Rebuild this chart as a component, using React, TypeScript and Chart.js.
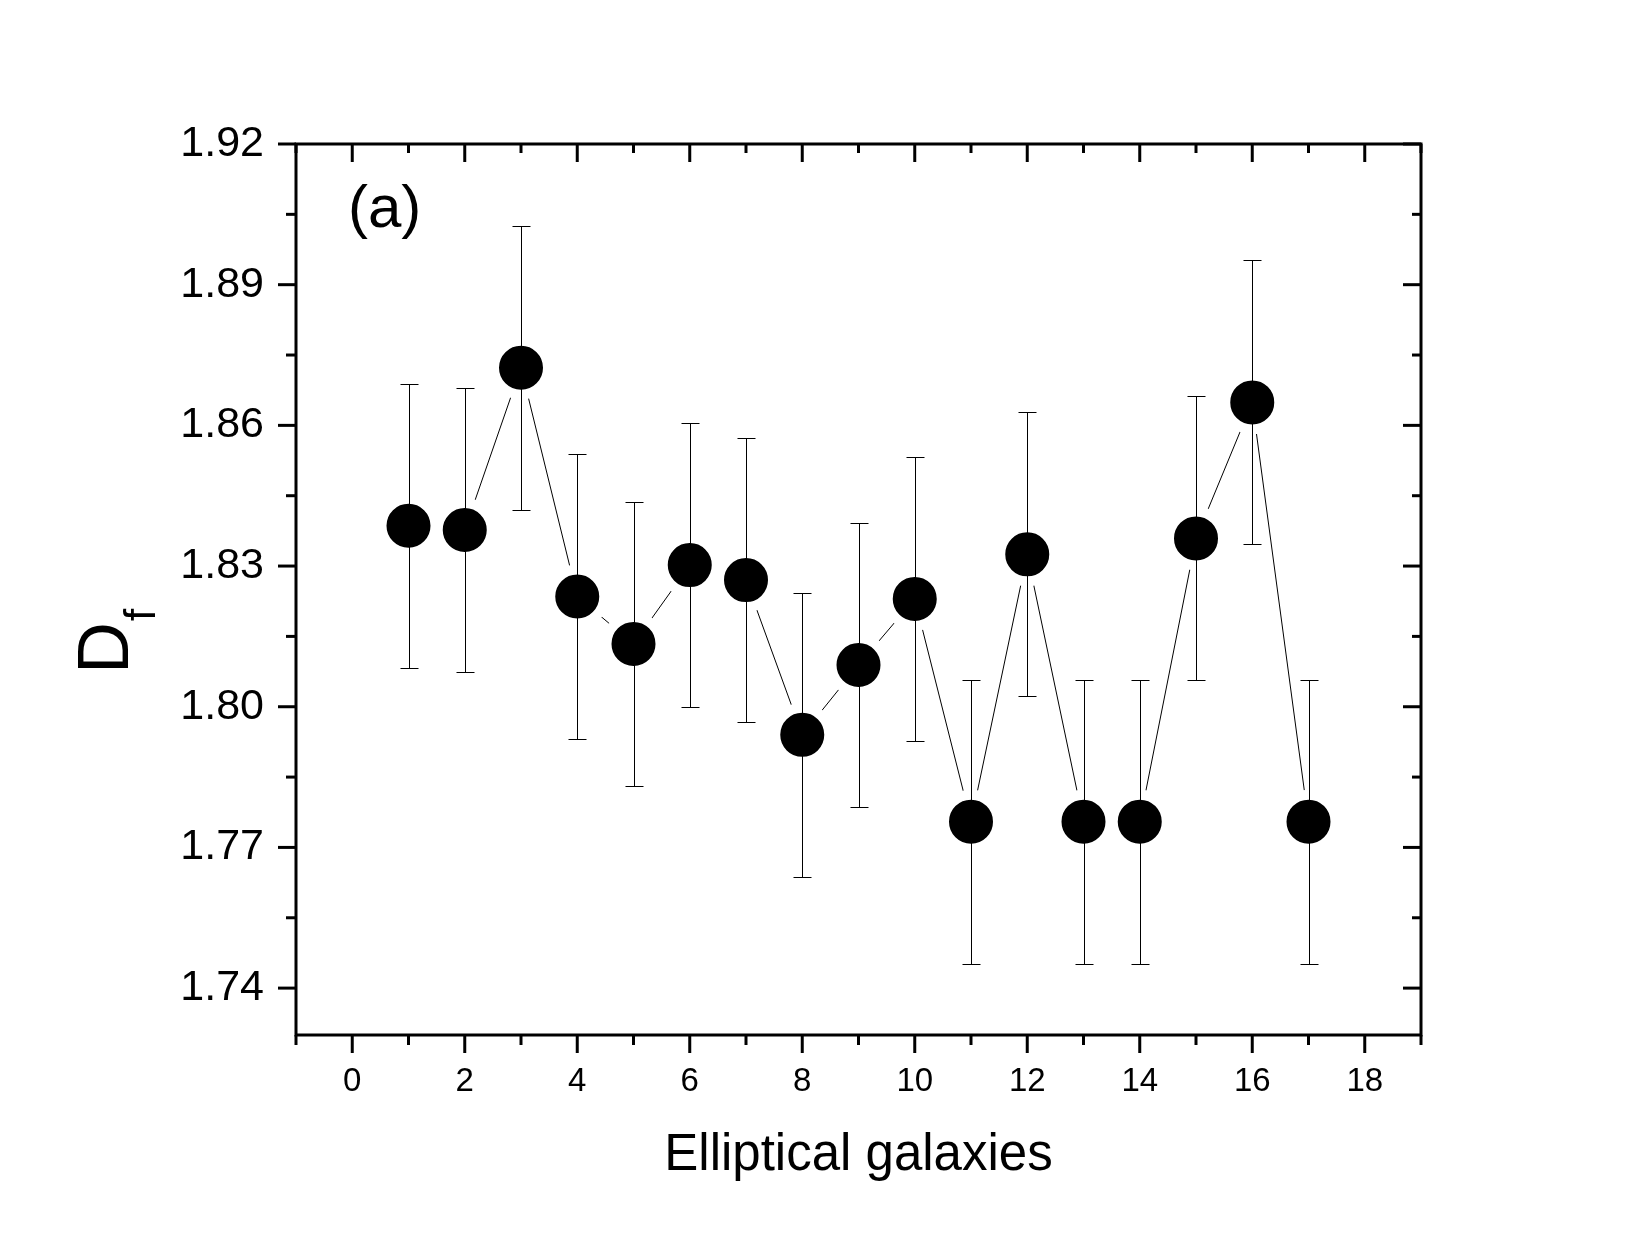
import React, { useEffect, useRef } from 'react';
import Chart from 'chart.js/auto';

// galaxy number along the x axis
const galaxyIndex = [1, 2, 3, 4, 5, 6, 7, 8, 9, 10, 11, 12, 13, 14, 15, 16, 17];
// fractal dimension D_f
const dfValues = [
  1.8386, 1.8377, 1.8723, 1.8235, 1.8134, 1.8302, 1.827, 1.794, 1.8089,
  1.823, 1.7755, 1.8325, 1.7755, 1.7755, 1.8359, 1.8649, 1.7755,
];
// symmetric error bars
const dfErrors = [
  0.0303, 0.0303, 0.0303, 0.0303, 0.0303, 0.0303, 0.0303, 0.0303, 0.0303,
  0.0303, 0.0303, 0.0303, 0.0303, 0.0303, 0.0303, 0.0303, 0.0303,
];

const xTickLabels = ['0', '2', '4', '6', '8', '10', '12', '14', '16', '18'];
const yTickLabels = ['1.74', '1.77', '1.80', '1.83', '1.86', '1.89', '1.92'];

const FONT = '"Liberation Sans", Arial, sans-serif';

const isYTick = (v: number) => Math.round(v * 1000) % 15 === 0;

const originStyle = {
  id: 'originStyle',
  afterDatasetsDraw(chart: any) {
    const { ctx, scales } = chart;
    const xs = scales.x;
    const ys = scales.y;
    ctx.save();
    ctx.strokeStyle = '#000';
    ctx.lineWidth = 1;
    galaxyIndex.forEach((g, i) => {
      const px = Math.round(xs.getPixelForValue(g)) + 0.5;
      const top = Math.round(ys.getPixelForValue(dfValues[i] + dfErrors[i])) + 0.5;
      const bot = Math.round(ys.getPixelForValue(dfValues[i] - dfErrors[i])) + 0.5;
      ctx.beginPath();
      ctx.moveTo(px, top);
      ctx.lineTo(px, bot);
      ctx.moveTo(px - 9, top);
      ctx.lineTo(px + 9, top);
      ctx.moveTo(px - 9, bot);
      ctx.lineTo(px + 9, bot);
      ctx.stroke();
    });
    ctx.restore();
  },
  afterDraw(chart: any) {
    const { ctx, chartArea: a, scales } = chart;
    const xs = scales.x;
    const ys = scales.y;
    ctx.save();
    ctx.strokeStyle = '#000';
    ctx.lineWidth = 3;
    ctx.lineCap = 'butt';
    const seg = (x1: number, y1: number, x2: number, y2: number) => {
      ctx.beginPath();
      ctx.moveTo(x1, y1);
      ctx.lineTo(x2, y2);
      ctx.stroke();
    };

    // bottom/left ticks point out, top/right ticks point in
    xs.ticks.forEach((t: any) => {
      const px = xs.getPixelForValue(t.value);
      const major = xTickLabels.includes(String(t.value));
      seg(px, a.bottom, px, a.bottom + (major ? 18 : 10));
      seg(px, a.top, px, a.top + (major ? 18 : 9));
    });
    ys.ticks.forEach((t: any) => {
      if (!isYTick(t.value)) return;
      const py = ys.getPixelForValue(t.value);
      const major = yTickLabels.includes(t.value.toFixed(2));
      seg(a.left, py, a.left - (major ? 18 : 10), py);
      seg(a.right, py, a.right - (major ? 18 : 9), py);
    });

    ctx.strokeRect(a.left, a.top, a.right - a.left, a.bottom - a.top);

    // axis titles and panel label
    ctx.fillStyle = '#000';
    ctx.textBaseline = 'alphabetic';
    ctx.textAlign = 'center';
    ctx.font = `51px ${FONT}`;
    ctx.fillText('Elliptical galaxies', (a.left + a.right) / 2, 1170);

    ctx.textAlign = 'left';
    ctx.font = `60px ${FONT}`;
    ctx.fillText('(a)', 348, 227);

    ctx.translate(128, 674);
    ctx.rotate(-Math.PI / 2);
    ctx.font = `72px ${FONT}`;
    ctx.fillText('D', 0, 0);
    const dw = ctx.measureText('D').width;
    ctx.font = `44px ${FONT}`;
    ctx.fillText('f', dw + 1, 27);
    ctx.restore();
  },
};

const App: React.FC = () => {
  const canvasRef = useRef<HTMLCanvasElement>(null);
  const chartRef = useRef<Chart | null>(null);

  useEffect(() => {
    if (!canvasRef.current) return;
    if (chartRef.current) chartRef.current.destroy();

    chartRef.current = new Chart(canvasRef.current, {
      type: 'scatter',
      data: {
        datasets: [
          {
            data: galaxyIndex.map((g, i) => ({ x: g, y: dfValues[i] })),
            showLine: true,
            borderColor: '#000',
            borderWidth: 1,
            tension: 0,
            pointRadius: 27,
            pointBorderWidth: 10,
            pointBorderColor: '#fff',
            pointBackgroundColor: '#000',
            pointHoverRadius: 27,
          },
        ],
      },
      options: {
        animation: false,
        responsive: true,
        maintainAspectRatio: false,
        devicePixelRatio: 1,
        events: [],
        layout: { padding: { top: 144, right: 229, left: 0, bottom: 0 } },
        plugins: {
          legend: { display: false },
          tooltip: { enabled: false },
        },
        scales: {
          x: {
            type: 'linear',
            min: -1,
            max: 19,
            grid: { display: false, drawTicks: false },
            border: { display: false },
            afterFit: (scale: any) => {
              scale.height = 207;
            },
            ticks: {
              stepSize: 1,
              autoSkip: false,
              maxRotation: 0,
              padding: 27,
              color: '#000',
              font: { family: FONT, size: 33 },
              callback: (v: any) => {
                const s = String(v);
                return xTickLabels.includes(s) ? s : '';
              },
            },
          },
          y: {
            type: 'linear',
            min: 1.73,
            max: 1.92,
            grid: { display: false, drawTicks: false },
            border: { display: false },
            afterFit: (scale: any) => {
              scale.width = 296;
            },
            ticks: {
              stepSize: 0.015,
              includeBounds: false,
              autoSkip: false,
              padding: 32,
              color: '#000',
              font: { family: FONT, size: 43 },
              callback: (v: any) => {
                const s = Number(v).toFixed(2);
                return yTickLabels.includes(s) && isYTick(Number(v)) ? s : '';
              },
            },
          },
        },
      },
      plugins: [originStyle],
    });

    return () => {
      if (chartRef.current) {
        chartRef.current.destroy();
        chartRef.current = null;
      }
    };
  }, []);

  return (
    <div style={{ position: 'absolute', left: 0, top: 0, width: 1650, height: 1242, background: '#fff' }}>
      <canvas ref={canvasRef}></canvas>
    </div>
  );
};

export default App;
